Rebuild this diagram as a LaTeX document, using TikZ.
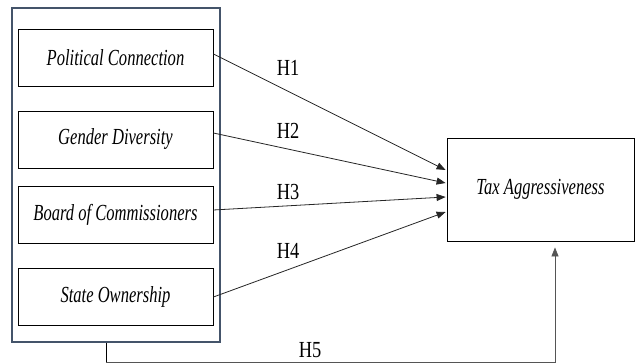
\documentclass[tikz,border=0pt]{standalone}
\usepackage{fontspec}
\usepackage{graphicx}
\setmainfont{Liberation Serif}
\usetikzlibrary{arrows.meta,calc}
\definecolor{framecol}{HTML}{44546A}
\definecolor{linegrey}{HTML}{555555}
\newcommand{\cnd}[1]{\scalebox{0.72}[1]{#1}}
\newcommand{\cndh}[1]{\scalebox{0.8}[1]{#1}}
\begin{document}
\begin{tikzpicture}[x=1pt,y=-1pt,
  framebox/.style={draw=framecol,line width=1.6pt,minimum width=208pt,minimum height=334pt,inner sep=0pt},
  varbox/.style={draw=black,line width=0.8pt,minimum width=195pt,minimum height=57pt,inner sep=0pt,font=\itshape\fontsize{23}{25}\selectfont},
  depbox/.style={draw=black,line width=0.8pt,minimum width=187pt,minimum height=103pt,inner sep=0pt,font=\itshape\fontsize{23}{25}\selectfont},
  arr/.style={-{Triangle[length=9pt,width=7pt]},line width=0.8pt,black!85},
  hlabel/.style={font=\fontsize{23}{25}\selectfont,inner sep=0pt}]
\useasboundingbox (0,0) rectangle (635,364);
\fill[white] (0,0) rectangle (635,364);
\node[framebox] (frame) at (116,175) {};
\node[varbox] (b1) at (115.5,57.5) {\cnd{Political Connection}};
\node[varbox] (b2) at (115.5,139.5) {\cnd{Gender Diversity}};
\node[varbox] (b3) at (115.5,215) {\cnd{Board of Commissioners}};
\node[varbox] (b4) at (115.5,296.5) {\cnd{State Ownership}};
\node[depbox] (tax) at (540.5,189.5) {\raisebox{-5pt}{\cnd{Tax Aggressiveness}}};
\draw[arr] ($(b1.east)+(0,-3.5)$) -- ($(tax.west)+(-1,-19.5)$);
\draw[arr] ($(b2.east)+(0,-6.5)$) -- ($(tax.west)+(-1,-6.5)$);
\draw[arr] ($(b3.east)+(0,-5)$) -- ($(tax.west)+(-1,7.5)$);
\draw[arr] ($(b4.east)+(0,0.5)$) -- ($(tax.west)+(-1,22.5)$);
\node[hlabel] (h1) at (288,68) {\cndh{H1}};
\node[hlabel] (h2) at (288,131) {\cndh{H2}};
\node[hlabel] (h3) at (288,192) {\cndh{H3}};
\node[hlabel] (h4) at (288,251) {\cndh{H4}};
\node[hlabel] (h5) at (310,350) {\cndh{H5}};
\coordinate (c1) at (106,362.5);
\coordinate (c2) at (555,362.5);
\draw[line width=0.8pt,black] ($(frame.south)+(-10,0)$) -- (c1);
\draw[line width=0.8pt,linegrey] (c1) -- (c2);
\draw[-{Triangle[length=9pt,width=7pt]},line width=0.8pt,linegrey] (c2) -- ($(tax.south)+(14.5,6)$);
\end{tikzpicture}
\end{document}
